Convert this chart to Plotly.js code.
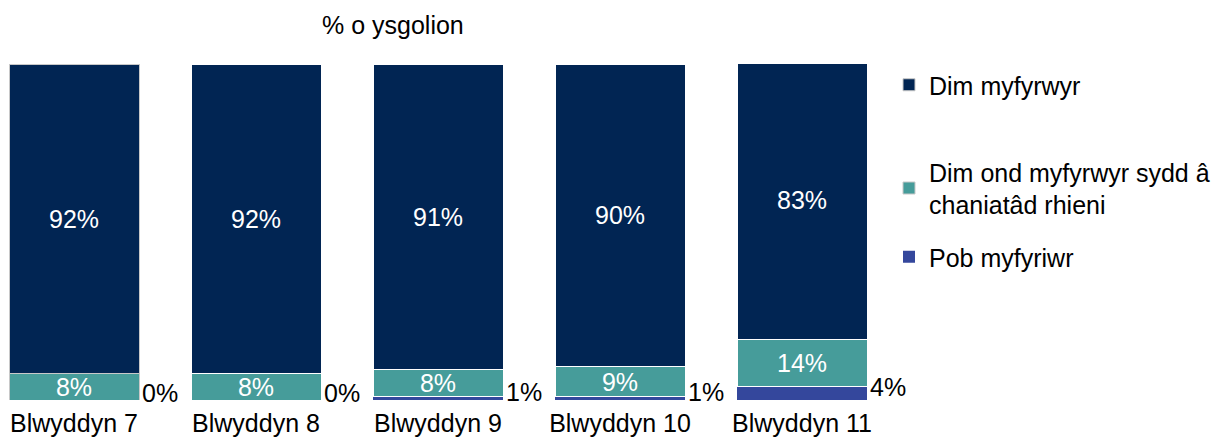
<!DOCTYPE html>
<html>
<head>
<meta charset="utf-8">
<script src="https://cdn.plot.ly/plotly-3.0.1.min.js"></script>
<style>html,body{margin:0;padding:0;background:#fff;}#chart{width:1221px;height:443px;}</style>
</head>
<body>
<div id="chart"></div>
<script>
const categories = ["Blwyddyn 7", "Blwyddyn 8", "Blwyddyn 9", "Blwyddyn 10", "Blwyddyn 11"];
const seriesNames = ["Pob myfyriwr", "Dim ond myfyrwyr sydd â<br>chaniatâd rhieni", "Dim myfyrwyr"];
const pobMyfyriwr = [0, 0, 1, 1, 4];
const caniatadRhieni = [8, 8, 8, 9, 14];
const dimMyfyrwyr = [92, 92, 91, 90, 83];
const chartTitle = "% o ysgolion";

const FONT = "Liberation Sans, Arial, sans-serif";
const colors = ["#34479c", "#469c9a", "#012553"];
const xIdx = categories.map((c, i) => i);

function lineColors() { return categories.map((c, i) => i === 0 ? "#c8c8c8" : "#ffffff"); }

const traces = [
  {
    type: "bar", name: seriesNames[0], x: xIdx, y: pobMyfyriwr,
    marker: {color: colors[0], line: {color: "#ffffff", width: 0}},
    hoverinfo: "skip", legend: "legend3"
  },
  {
    type: "bar", name: seriesNames[1], x: xIdx, y: caniatadRhieni,
    text: caniatadRhieni.map(v => v + "%"), textposition: "inside", insidetextanchor: "middle",
    constraintext: "none",
    textfont: {family: FONT, size: 25, color: "#ffffff"},
    marker: {color: colors[1], line: {color: lineColors(), width: 1}},
    hoverinfo: "skip", legend: "legend2"
  },
  {
    type: "bar", name: seriesNames[2], x: xIdx, y: dimMyfyrwyr,
    text: dimMyfyrwyr.map(v => v + "%"), textposition: "inside", insidetextanchor: "middle",
    constraintext: "none",
    textfont: {family: FONT, size: 25, color: "#ffffff"},
    marker: {color: colors[2], line: {color: lineColors(), width: 1}},
    hoverinfo: "skip", legend: "legend"
  }
];

const annotations = pobMyfyriwr.map((v, i) => ({
  x: i, y: v / 2 + 2, xref: "x", yref: "y", text: v + "%", showarrow: false,
  xanchor: "left", yanchor: "middle", xshift: 66,
  font: {family: FONT, size: 25, color: "#000000"}
}));
annotations.push({
  x: 393 / 880, y: 1 + (64 - 25) / 336, xref: "paper", yref: "paper", text: chartTitle,
  showarrow: false, xanchor: "center", yanchor: "middle",
  font: {family: FONT, size: 25, color: "#000000"}
});

function legendAt(topPx) {
  return {
    x: 889 / 880, y: 1 - (topPx - 64) / 336, xanchor: "left", yanchor: "top",
    font: {family: FONT, size: 25, color: "#000000"}, bgcolor: "rgba(0,0,0,0)"
  };
}

const layout = {
  width: 1221, height: 443,
  margin: {l: 0, r: 341, t: 64, b: 43, pad: 0},
  paper_bgcolor: "#ffffff", plot_bgcolor: "#ffffff",
  barmode: "stack", bargap: 0.2857,
  font: {family: FONT, size: 25, color: "#000000"},
  xaxis: {
    tickmode: "array", tickvals: xIdx, ticktext: categories,
    range: [-74 / 182, -74 / 182 + 880 / 182],
    showgrid: false, zeroline: false, showline: false, ticks: "",
    ticklabelstandoff: 6,
    tickfont: {family: FONT, size: 25, color: "#000000"}, fixedrange: true
  },
  yaxis: {range: [0, 100], visible: false, fixedrange: true},
  showlegend: true,
  legend: legendAt(62),
  legend2: legendAt(149),
  legend3: legendAt(234),
  annotations: annotations
};

Plotly.newPlot("chart", traces, layout, {displayModeBar: false, staticPlot: true});
</script>
</body>
</html>
